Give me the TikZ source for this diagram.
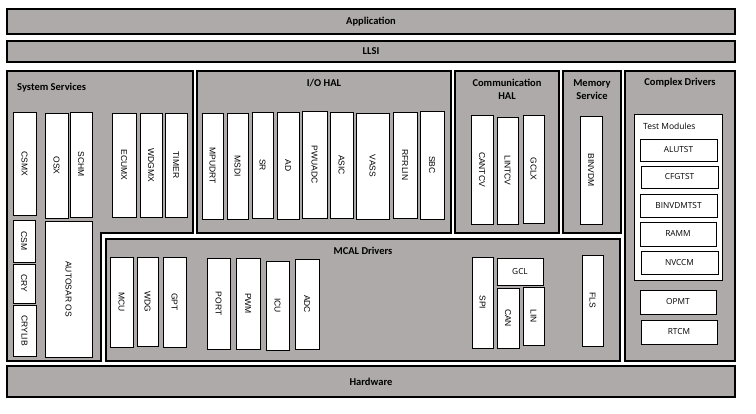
\documentclass[tikz,border=0pt]{standalone}
\usepackage{fontspec}
\usepackage{graphicx}
\setmainfont{Carlito}
\newfontfamily\arialf{Liberation Sans}
\newfontfamily\segf{Open Sans}
\definecolor{lay}{RGB}{174,170,170}
\newcommand\lbox[6]{\node[#1, minimum width={#4pt-#2pt}, minimum height={#5pt-#3pt}] (#6) at ({(#2+#4)/2},{(#3+#5)/2})}
\newcommand\vt[1]{\rotatebox{-90}{#1}}
\begin{document}
\begin{tikzpicture}[x=1pt,y=-1pt,
  layer/.style={draw=black, fill=lay, line width=1.3pt, inner sep=0pt, outer sep=0pt, font=\bfseries\fontsize{10.5}{12}\selectfont},
  mod/.style={draw=black, fill=white, line width=1pt, inner sep=0pt, outer sep=0pt},
  vmod/.style={mod, font=\arialf\fontsize{8.5}{9}\selectfont},
  hmod/.style={mod, font=\segf\fontsize{8.3}{9}\selectfont},
  ttl/.style={font=\bfseries\fontsize{10.5}{13.5}\selectfont, inner sep=0pt, align=center}]
\useasboundingbox (0,0) rectangle (756,413);
% layers
\lbox{layer}{7}{9}{735}{34}{app} {Application};
\lbox{layer}{7}{41}{735}{62}{llsi} {LLSI};
\draw[layer] (7,71) -- (193,71) -- (193,233) -- (101,233) -- (101,361) -- (7,361) -- cycle;
\node[ttl, anchor=west] (sstitle) at (17,88) {System Services};
\lbox{layer}{197}{71}{451}{233}{iohal} {};
\node[ttl] (iotitle) at (324,83) {I/O HAL};
\lbox{layer}{455}{71}{559}{233}{comhal} {};
\node[ttl] (comtitle) at (507,89.5) {Communication\\HAL};
\lbox{layer}{563}{71}{621}{233}{mem} {};
\node[ttl] (memtitle) at (592,89.5) {Memory\\Service};
\lbox{layer}{625}{71}{735}{361}{cdrv} {};
\node[ttl] (cdtitle) at (680,83) {Complex Drivers};
\lbox{layer}{106}{239}{620}{361}{mcal} {};
\node[ttl] (mcaltitle) at (363,251) {MCAL Drivers};
\lbox{layer}{7}{366}{735}{397}{hw} {Hardware};
% system services
\lbox{vmod}{13}{112}{36}{215}{csmx} {\vt{CSMX}};
\lbox{vmod}{45}{113}{68}{218}{osx} {\vt{OSX}};
\lbox{vmod}{70}{112}{92}{217}{schm} {\vt{SCHM}};
\lbox{vmod}{112}{113}{136}{217}{ecumx} {\vt{ECUMX}};
\lbox{vmod}{140}{113}{162}{217}{wdgmx} {\vt{WDGMX}};
\lbox{vmod}{165}{113}{187}{217}{timer} {\vt{TIMER}};
\lbox{vmod}{13}{220}{35}{262}{csm} {\vt{CSM}};
\lbox{vmod}{13}{264}{35}{303}{cry} {\vt{CRY}};
\lbox{vmod}{13}{305}{36}{356}{crylib} {\vt{CRYLIB}};
\lbox{vmod}{45}{221}{92}{357}{aos} {\vt{AUTOSAR OS}};
% I/O HAL
\lbox{vmod}{202}{113}{223}{219}{mpudrt} {\vt{MPUDRT}};
\lbox{vmod}{227}{113}{248}{219}{msdi} {\vt{MSDI}};
\lbox{vmod}{252}{112}{273}{218}{sr} {\vt{SR}};
\lbox{vmod}{277}{112}{299}{219}{ad} {\vt{AD}};
\lbox{vmod}{302}{111}{327}{218}{pwuadc} {\vt{PWUADC}};
\lbox{vmod}{330}{112}{353}{218}{asic} {\vt{ASIC}};
\lbox{vmod}{356}{113}{389}{219}{vass} {\vt{VASS}};
\lbox{vmod}{393}{112}{417}{218}{rfrlin} {\vt{RFRLIN}};
\lbox{vmod}{420}{111}{444}{219}{sbc} {\vt{SBC}};
% Communication HAL
\lbox{vmod}{471}{115}{493}{224}{cantcv} {\vt{CANTCV}};
\lbox{vmod}{497}{117}{518}{224}{lintcv} {\vt{LINTCV}};
\lbox{vmod}{523}{115}{544}{223}{gclx} {\vt{GCLX}};
% Memory
\lbox{vmod}{580}{116}{602}{224}{binvdm} {\vt{BINVDM}};
% Complex drivers
\lbox{mod}{634}{114}{722}{280}{tm} {};
\node[font=\segf\fontsize{8.5}{10}\selectfont, anchor=west, inner sep=0pt] (tmtitle) at (643,126) {Test Modules};
\lbox{hmod}{640}{139}{717}{161}{alutst} {ALUTST};
\lbox{hmod}{641}{166}{718}{188}{cfgtst} {CFGTST};
\lbox{hmod}{640}{194}{717}{217}{binvdmtst} {BINVDMTST};
\lbox{hmod}{640}{222}{716}{246}{ramm} {RAMM};
\lbox{hmod}{641}{251}{718}{274}{nvccm} {NVCCM};
\lbox{hmod}{640}{290}{716}{314}{opmt} {OPMT};
\lbox{hmod}{641}{320}{717}{344}{rtcm} {RTCM};
% MCAL
\lbox{vmod}{110}{257}{133}{347}{mcu} {\vt{MCU}};
\lbox{vmod}{137}{257}{158}{346}{wdg} {\vt{WDG}};
\lbox{vmod}{163}{257}{186}{347}{gpt} {\vt{GPT}};
\lbox{vmod}{207}{258}{230}{349}{port} {\vt{PORT}};
\lbox{vmod}{236}{258}{260}{349}{pwm} {\vt{PWM}};
\lbox{vmod}{266}{261}{289}{350}{icu} {\vt{ICU}};
\lbox{vmod}{295}{259}{319}{349}{adc} {\vt{ADC}};
\lbox{vmod}{472}{257}{493}{348}{spi} {\vt{SPI}};
\lbox{hmod}{497}{258}{543}{285}{gcl} {GCL};
\lbox{vmod}{497}{288}{519}{348}{can} {\vt{CAN}};
\lbox{vmod}{523}{287}{544}{345}{lin} {\vt{LIN}};
\lbox{vmod}{582}{255}{603}{346}{fls} {\vt{FLS}};
\end{tikzpicture}
\end{document}
